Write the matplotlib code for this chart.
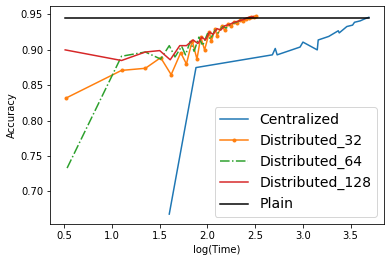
import matplotlib
matplotlib.use("Agg")
import matplotlib.pyplot as plt

cent_x = [1.60, 1.88, 2.68, 2.71, 2.73, 2.97, 3.00, 3.15, 3.16, 3.27, 3.37, 3.38, 3.46, 3.52, 3.54, 3.60, 3.65, 3.69]
cent_y = [0.668, 0.875, 0.893, 0.902, 0.893, 0.904, 0.911, 0.900, 0.914, 0.919, 0.927, 0.924, 0.933, 0.935, 0.939, 0.941, 0.944, 0.946]

d32_x = [0.52, 1.10, 1.35, 1.51, 1.62, 1.72, 1.78, 1.84, 1.89, 1.93, 1.97, 2.02, 2.04, 2.08, 2.10, 2.15, 2.18,
         2.22, 2.25, 2.28, 2.31, 2.34, 2.37, 2.40, 2.43, 2.46, 2.49, 2.51]
d32_y = [0.832, 0.871, 0.874, 0.889, 0.865, 0.896, 0.880, 0.913, 0.887, 0.918, 0.900, 0.925, 0.912, 0.930, 0.920,
         0.934, 0.928, 0.937, 0.934, 0.939, 0.938, 0.942, 0.941, 0.944, 0.945, 0.947, 0.947, 0.948]

d64_x = [0.53, 1.10, 1.35, 1.51, 1.60, 1.66, 1.73, 1.77, 1.82, 1.86, 1.91, 1.95, 2.00, 2.03, 2.08, 2.11, 2.16,
         2.20, 2.25, 2.30, 2.35, 2.40, 2.45]
d64_y = [0.733, 0.891, 0.897, 0.887, 0.906, 0.890, 0.905, 0.893, 0.912, 0.898, 0.918, 0.906, 0.923, 0.915, 0.928,
         0.924, 0.933, 0.931, 0.937, 0.939, 0.942, 0.944, 0.946]

d128_x = [0.51, 1.10, 1.35, 1.50, 1.61, 1.71, 1.78, 1.85, 1.90, 1.94, 1.98, 2.02, 2.06, 2.10, 2.14, 2.18, 2.23,
          2.28, 2.33, 2.38, 2.43, 2.48]
d128_y = [0.900, 0.885, 0.897, 0.899, 0.886, 0.906, 0.906, 0.914, 0.909, 0.918, 0.914, 0.925, 0.922, 0.930, 0.928,
          0.934, 0.936, 0.939, 0.941, 0.943, 0.946, 0.947]

plain_x = [0.51, 3.69]
plain_y = [0.945, 0.945]

fig = plt.figure(figsize=(392 / 72, 262 / 72), dpi=72)
ax = fig.add_axes([50 / 392, 38 / 262, 334 / 392, 218 / 262])

ax.plot(cent_x, cent_y, color="#1f77b4", label="Centralized")
ax.plot(d32_x, d32_y, color="#ff7f0e", marker=".", label="Distributed_32")
ax.plot(d64_x, d64_y, color="#2ca02c", linestyle="-.", label="Distributed_64")
ax.plot(d128_x, d128_y, color="#d62728", label="Distributed_128")
ax.plot(plain_x, plain_y, color="black", label="Plain")

ax.set_xticks([0.5, 1.0, 1.5, 2.0, 2.5, 3.0, 3.5])
ax.set_yticks([0.70, 0.75, 0.80, 0.85, 0.90, 0.95])
ax.set_xlabel("log(Time)")
ax.set_ylabel("Accuracy")
ax.legend(loc="lower right", fontsize=14)

fig.savefig("out.png", dpi=72)
